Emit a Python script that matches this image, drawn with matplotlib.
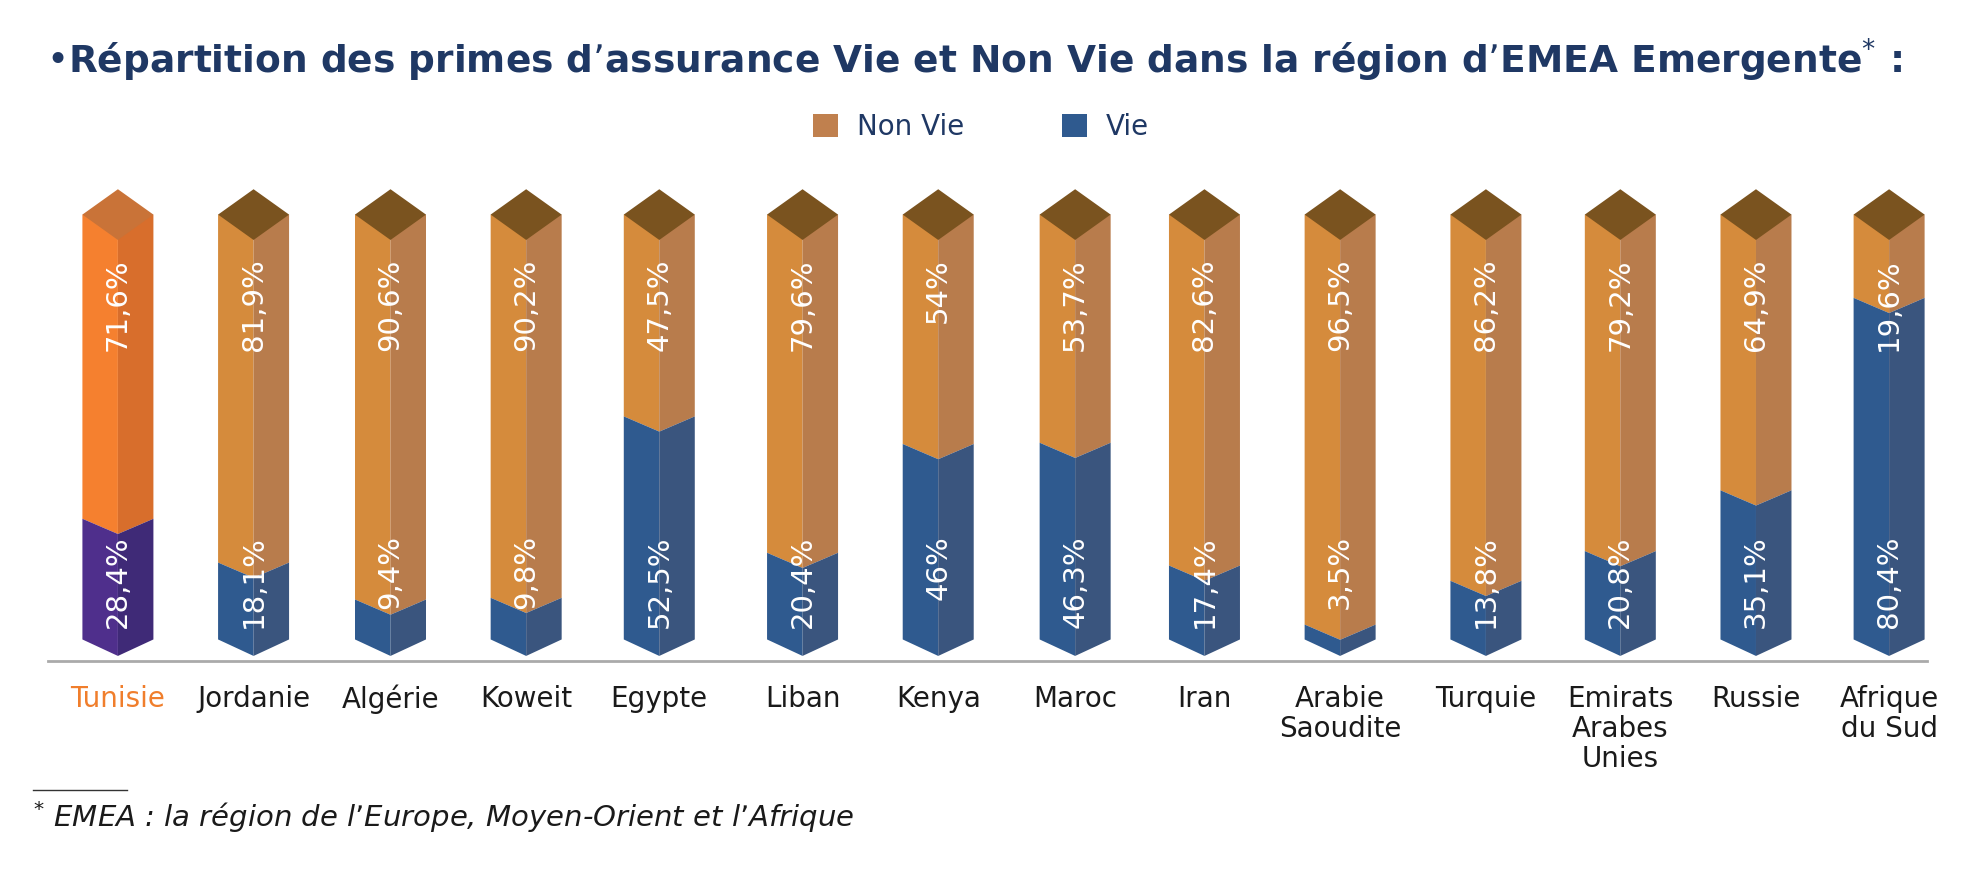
import matplotlib
matplotlib.use("Agg")
import matplotlib.pyplot as plt
from matplotlib.patches import Polygon

countries = ["Tunisie", "Jordanie", "Algérie", "Koweit", "Egypte", "Liban", "Kenya",
             "Maroc", "Iran", "Arabie\nSaoudite", "Turquie", "Emirats\nArabes\nUnies",
             "Russie", "Afrique\ndu Sud"]
non_vie = [71.6, 81.9, 90.6, 90.2, 47.5, 79.6, 54, 53.7, 82.6, 96.5, 86.2, 79.2, 64.9, 19.6]
vie = [28.4, 18.1, 9.4, 9.8, 52.5, 20.4, 46, 46.3, 17.4, 3.5, 13.8, 20.8, 35.1, 80.4]
non_vie_lbl = ["71,6%", "81,9%", "90,6%", "90,2%", "47,5%", "79,6%", "54%", "53,7%",
               "82,6%", "96,5%", "86,2%", "79,2%", "64,9%", "19,6%"]
vie_lbl = ["28,4%", "18,1%", "9,4%", "9,8%", "52,5%", "20,4%", "46%", "46,3%",
           "17,4%", "3,5%", "13,8%", "20,8%", "35,1%", "80,4%"]
centers = [93, 200, 308, 415, 520, 633, 740, 848, 950, 1057, 1172, 1278, 1385, 1490]

W, H = 1568, 686
NAVY = "#1F3864"
fig = plt.figure(figsize=(19.88, 8.7), dpi=100)
ax = fig.add_axes([0, 0, 1, 1])
ax.set_xlim(0, W); ax.set_ylim(H, 0); ax.axis("off")

TOP, BOT, TIP, HW, V = 170, 505, 518, 28, 12
k = (BOT - TOP) / 100.0

for i, (c, nv, v) in enumerate(zip(centers, non_vie, vie)):
    if i == 0:
        nl, nr, vl, vr, cap = "#F5802F", "#D86E2C", "#4F2F8C", "#3F2A77", "#C97338"
    else:
        nl, nr, vl, vr, cap = "#D58B3C", "#B87C4C", "#2F5A8F", "#3A557E", "#7A531F"
    yb = BOT - v * k  # boundary
    ax.add_patch(Polygon([(c - HW, TOP), (c, TOP), (c, yb + V), (c - HW, yb)], color=nl, lw=0))
    ax.add_patch(Polygon([(c, TOP), (c + HW, TOP), (c + HW, yb), (c, yb + V)], color=nr, lw=0))
    ax.add_patch(Polygon([(c - HW, yb), (c, yb + V), (c, TIP), (c - HW, BOT)], color=vl, lw=0))
    ax.add_patch(Polygon([(c, yb + V), (c + HW, yb), (c + HW, BOT), (c, TIP)], color=vr, lw=0))
    ax.add_patch(Polygon([(c - HW, TOP), (c, TOP - 20), (c + HW, TOP), (c, TOP + 20)], color=cap, lw=0))
    ax.text(c, 204, non_vie_lbl[i], rotation=90, ha="center", va="top",
            color="white", fontsize=21)
    ax.text(c, 422, vie_lbl[i], rotation=90, ha="center", va="top",
            color="white", fontsize=21)
    ax.text(c, 540, countries[i], ha="center", va="top", fontsize=20, linespacing=1.1,
            color="#F07E2C" if i == 0 else "#1A1A1A")

ax.plot([38, 1520], [522, 522], color="#AAAAAA", lw=2)

ax.text(36, 48, "•Répartition des primes d’assurance Vie et Non Vie dans la région d’EMEA Emergente$^{*}$ :",
        fontsize=27, fontweight="bold", color=NAVY, va="center")

ax.add_patch(Polygon([(641, 91), (661, 91), (661, 109), (641, 109)], color="#C0804E", lw=0))
ax.text(676, 100, "Non Vie", fontsize=20, va="center", color=NAVY)
ax.add_patch(Polygon([(838, 91), (857, 91), (857, 109), (838, 109)], color="#2F5A8F", lw=0))
ax.text(872, 100, "Vie", fontsize=20, va="center", color=NAVY)

ax.plot([26, 100], [624, 624], color="#333333", lw=1)
ax.text(26, 644, "$^{*}$ EMEA : la région de l’Europe, Moyen-Orient et l’Afrique",
        fontsize=21, style="italic", va="center", color="#1A1A1A")

fig.savefig("out.png", dpi=100)
